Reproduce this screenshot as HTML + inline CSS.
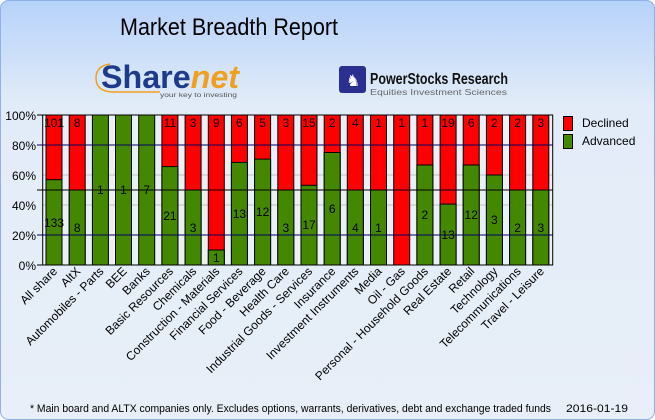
<!DOCTYPE html>
<html><head><style>
html,body{margin:0;padding:0;width:655px;height:420px;overflow:hidden;background:#fff}
svg{display:block;font-family:"Liberation Sans",sans-serif}
</style></head><body>
<svg width="655" height="420" viewBox="0 0 655 420" xmlns="http://www.w3.org/2000/svg">
<defs>
<linearGradient id="bg" x1="0" y1="0" x2="0" y2="1">
<stop offset="0" stop-color="#b6d2fa"/>
<stop offset="0.25" stop-color="#e2ecf8"/>
<stop offset="1" stop-color="#e8eff8"/>
</linearGradient>
</defs>
<rect x="0.5" y="0.5" width="654" height="419" rx="8" fill="url(#bg)" stroke="#8fb0e8"/>
<text x="120" y="35" font-size="24" textLength="218" lengthAdjust="spacingAndGlyphs">Market Breadth Report</text>
<!-- logos -->
<path d="M110 64 Q96 66 96 78 Q96 91 112 92 L160 92" fill="none" stroke="#f0a020" stroke-width="1.5"/>
<text x="101" y="88" font-size="32" font-weight="bold" fill="#1d3b8a" textLength="138" lengthAdjust="spacingAndGlyphs">Share<tspan fill="#f0a020" font-style="italic">net</tspan></text>
<text x="160" y="97" font-size="6" fill="#555" textLength="77" lengthAdjust="spacingAndGlyphs">your key to investing</text>
<rect x="339" y="66" width="27" height="27" rx="3" fill="#2b2f8f"/>
<text x="346" y="86" font-size="16" fill="#fff">♞</text>
<text x="370" y="84" font-size="16" font-weight="bold" fill="#111" textLength="138" lengthAdjust="spacingAndGlyphs">PowerStocks  Research</text>
<text x="370" y="95" font-size="8" fill="#666" textLength="137" lengthAdjust="spacingAndGlyphs">Equities Investment Sciences</text>
<!-- plot -->
<rect x="42.7" y="115" width="510" height="150" fill="#eaf0f8"/>
<g stroke="#c0c0c0"><line x1="42.7" y1="145" x2="552.7" y2="145"/><line x1="42.7" y1="175" x2="552.7" y2="175"/><line x1="42.7" y1="205" x2="552.7" y2="205"/><line x1="42.7" y1="235" x2="552.7" y2="235"/></g>
<g stroke="#000" stroke-width="1">
<rect x="46.0" y="115" width="16" height="150" fill="#f00"/><rect x="46.0" y="179.7" width="16" height="85.3" fill="#448800"/>
<rect x="69.2" y="115" width="16" height="150" fill="#f00"/><rect x="69.2" y="190" width="16" height="75" fill="#448800"/>
<rect x="92.4" y="115" width="16" height="150" fill="#448800"/>
<rect x="115.5" y="115" width="16" height="150" fill="#448800"/>
<rect x="138.7" y="115" width="16" height="150" fill="#448800"/>
<rect x="161.9" y="115" width="16" height="150" fill="#f00"/><rect x="161.9" y="166.6" width="16" height="98.4" fill="#448800"/>
<rect x="185.1" y="115" width="16" height="150" fill="#f00"/><rect x="185.1" y="190" width="16" height="75" fill="#448800"/>
<rect x="208.3" y="115" width="16" height="150" fill="#f00"/><rect x="208.3" y="250" width="16" height="15" fill="#448800"/>
<rect x="231.4" y="115" width="16" height="150" fill="#f00"/><rect x="231.4" y="162.4" width="16" height="102.6" fill="#448800"/>
<rect x="254.6" y="115" width="16" height="150" fill="#f00"/><rect x="254.6" y="159.1" width="16" height="105.9" fill="#448800"/>
<rect x="277.8" y="115" width="16" height="150" fill="#f00"/><rect x="277.8" y="190" width="16" height="75" fill="#448800"/>
<rect x="301.0" y="115" width="16" height="150" fill="#f00"/><rect x="301.0" y="185.3" width="16" height="79.7" fill="#448800"/>
<rect x="324.2" y="115" width="16" height="150" fill="#f00"/><rect x="324.2" y="152.5" width="16" height="112.5" fill="#448800"/>
<rect x="347.3" y="115" width="16" height="150" fill="#f00"/><rect x="347.3" y="190" width="16" height="75" fill="#448800"/>
<rect x="370.5" y="115" width="16" height="150" fill="#f00"/><rect x="370.5" y="190" width="16" height="75" fill="#448800"/>
<rect x="393.7" y="115" width="16" height="150" fill="#f00"/>
<rect x="416.9" y="115" width="16" height="150" fill="#f00"/><rect x="416.9" y="165" width="16" height="100" fill="#448800"/>
<rect x="440.1" y="115" width="16" height="150" fill="#f00"/><rect x="440.1" y="204.1" width="16" height="60.9" fill="#448800"/>
<rect x="463.2" y="115" width="16" height="150" fill="#f00"/><rect x="463.2" y="165" width="16" height="100" fill="#448800"/>
<rect x="486.4" y="115" width="16" height="150" fill="#f00"/><rect x="486.4" y="175" width="16" height="90" fill="#448800"/>
<rect x="509.6" y="115" width="16" height="150" fill="#f00"/><rect x="509.6" y="190" width="16" height="75" fill="#448800"/>
<rect x="532.8" y="115" width="16" height="150" fill="#f00"/><rect x="532.8" y="190" width="16" height="75" fill="#448800"/>
</g>
<g stroke="#000060"><line x1="37" y1="145" x2="552.7" y2="145"/><line x1="37" y1="235" x2="552.7" y2="235"/></g>
<line x1="37" y1="190" x2="552.7" y2="190" stroke="#000"/>
<line x1="37" y1="115" x2="42.7" y2="115" stroke="#000"/><line x1="37" y1="265" x2="42.7" y2="265" stroke="#000"/>
<rect x="42.7" y="115" width="510" height="150" fill="none" stroke="#000"/>
<g font-size="12" text-anchor="end">
<text x="36" y="120">100%</text><text x="36" y="150">80%</text><text x="36" y="180">60%</text><text x="36" y="210">40%</text><text x="36" y="240">20%</text><text x="36" y="270">0%</text>
</g>
<g font-size="12" text-anchor="middle">
<text x="54" y="127">101</text><text x="77.2" y="127">8</text><text x="169.9" y="127">11</text><text x="193.1" y="127">3</text><text x="216.3" y="127">9</text><text x="239.4" y="127">6</text><text x="262.6" y="127">5</text><text x="285.8" y="127">3</text><text x="309" y="127">15</text><text x="332.2" y="127">2</text><text x="355.3" y="127">4</text><text x="378.5" y="127">1</text><text x="401.7" y="127">1</text><text x="424.9" y="127">1</text><text x="448.1" y="127">19</text><text x="471.2" y="127">6</text><text x="494.4" y="127">2</text><text x="517.6" y="127">2</text><text x="540.8" y="127">3</text>
<text x="54" y="227">133</text><text x="77.2" y="232">8</text><text x="100.4" y="194">1</text><text x="123.5" y="194">1</text><text x="146.7" y="194">7</text><text x="169.9" y="220">21</text><text x="193.1" y="232">3</text><text x="216.3" y="262">1</text><text x="239.4" y="218">13</text><text x="262.6" y="216">12</text><text x="285.8" y="232">3</text><text x="309" y="229">17</text><text x="332.2" y="213">6</text><text x="355.3" y="232">4</text><text x="378.5" y="232">1</text><text x="424.9" y="219">2</text><text x="448.1" y="239">13</text><text x="471.2" y="219">12</text><text x="494.4" y="224">3</text><text x="517.6" y="232">2</text><text x="540.8" y="232">3</text>
</g>
<g font-size="12" text-anchor="end">
<text transform="translate(58,272) rotate(-45)">All share</text>
<text transform="translate(81.2,272) rotate(-45)">AltX</text>
<text transform="translate(104.4,272) rotate(-45)">Automobiles - Parts</text>
<text transform="translate(127.5,272) rotate(-45)">BEE</text>
<text transform="translate(150.7,272) rotate(-45)">Banks</text>
<text transform="translate(173.9,272) rotate(-45)">Basic Resources</text>
<text transform="translate(197.1,272) rotate(-45)">Chemicals</text>
<text transform="translate(220.3,272) rotate(-45)">Construction - Materials</text>
<text transform="translate(243.4,272) rotate(-45)">Financial Services</text>
<text transform="translate(266.6,272) rotate(-45)">Food - Beverage</text>
<text transform="translate(289.8,272) rotate(-45)">Health Care</text>
<text transform="translate(313,272) rotate(-45)">Industrial Goods - Services</text>
<text transform="translate(336.2,272) rotate(-45)">Insurance</text>
<text transform="translate(359.3,272) rotate(-45)">Investment Instruments</text>
<text transform="translate(382.5,272) rotate(-45)">Media</text>
<text transform="translate(405.7,272) rotate(-45)">Oil - Gas</text>
<text transform="translate(428.9,272) rotate(-45)">Personal - Household Goods</text>
<text transform="translate(452.1,272) rotate(-45)">Real Estate</text>
<text transform="translate(475.2,272) rotate(-45)">Retail</text>
<text transform="translate(498.4,272) rotate(-45)">Technology</text>
<text transform="translate(521.6,272) rotate(-45)">Telecommunications</text>
<text transform="translate(544.8,272) rotate(-45)">Travel - Leisure</text>
</g>
<rect x="563.5" y="116.5" width="9" height="14" fill="#f00" stroke="#000"/>
<rect x="563.5" y="134.5" width="9" height="14" fill="#448800" stroke="#000"/>
<text x="582" y="127" font-size="12">Declined</text>
<text x="582" y="145" font-size="12">Advanced</text>
<text x="30" y="412" font-size="11" textLength="521" lengthAdjust="spacingAndGlyphs">* Main board and ALTX companies only. Excludes options, warrants, derivatives, debt and exchange traded funds</text>
<text x="566" y="412" font-size="11" textLength="62" lengthAdjust="spacingAndGlyphs">2016-01-19</text>
</svg>
</body></html>
